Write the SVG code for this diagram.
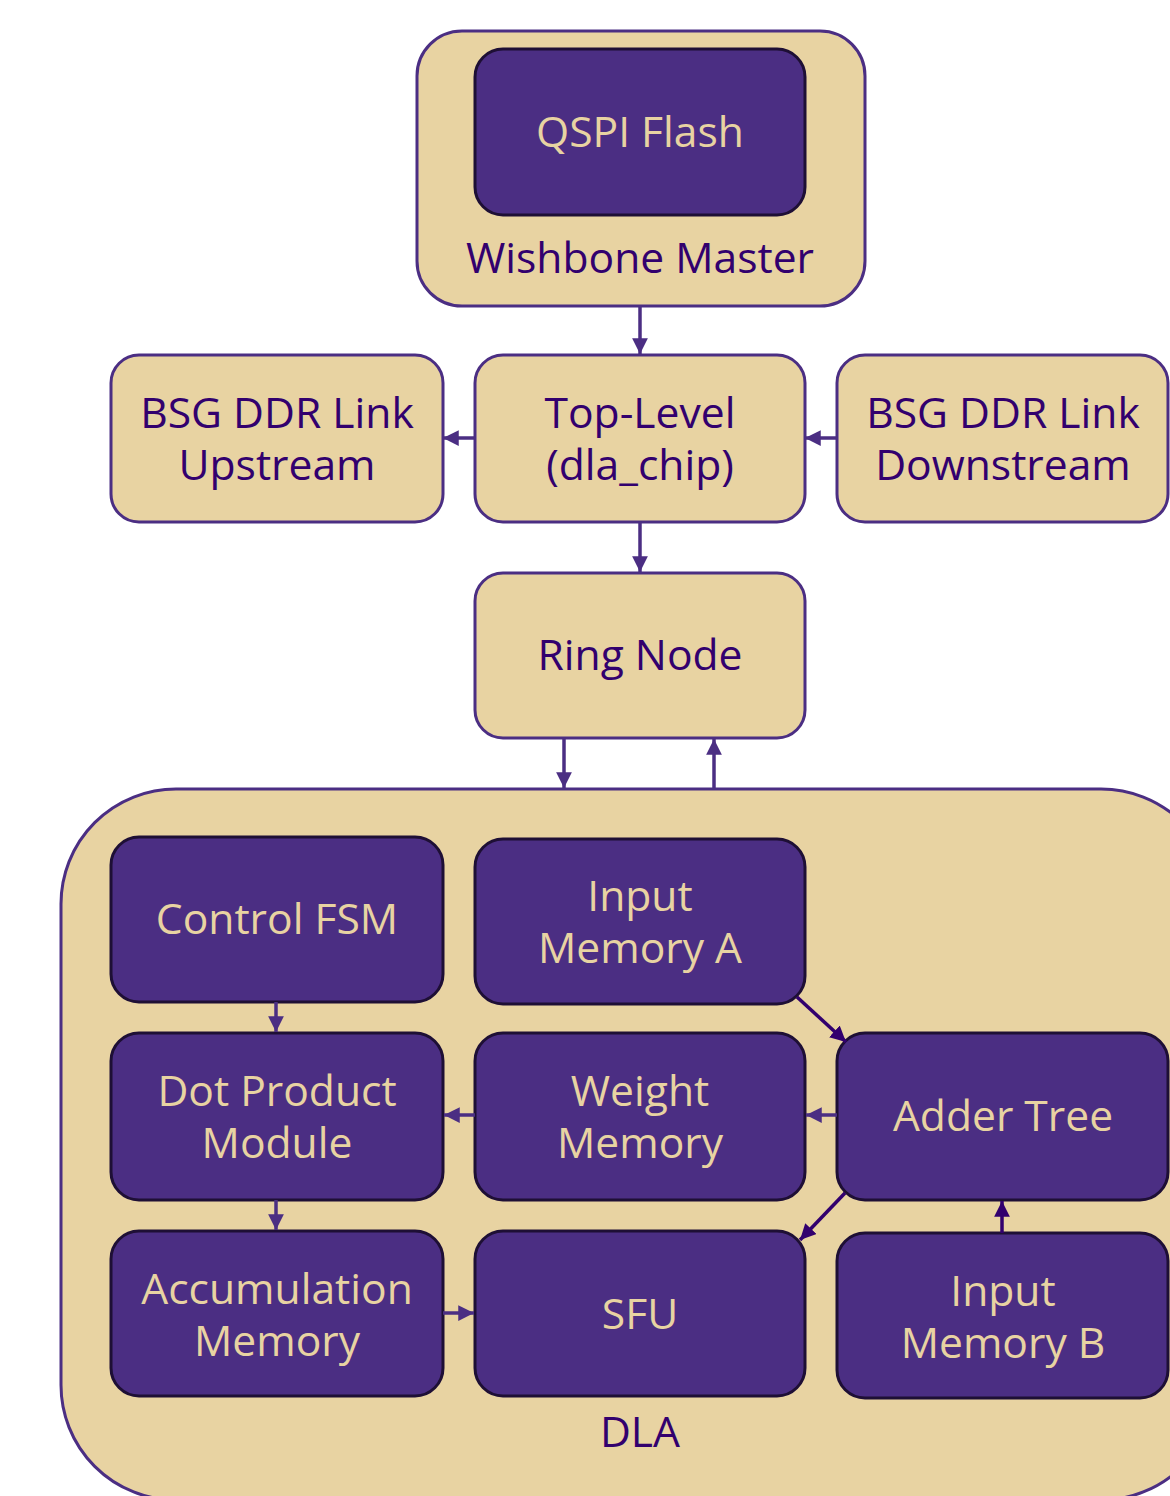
<svg xmlns="http://www.w3.org/2000/svg" width="1170" height="1496" viewBox="0 0 1170 1496">
  <style>
    .tan { fill: #E8D3A2; stroke: #4B2E83; stroke-width: 3; }
    .dark { fill: #4B2E83; stroke: #1E0F35; stroke-width: 3; }
    text { font-family: "Open Sans", "Noto Sans", "DejaVu Sans", sans-serif; font-size: 42.6px; text-anchor: middle; dominant-baseline: central; }
    .lt { fill: #32006E; }
    .dt { fill: #E8D3A2; }
    .wire { stroke: #4B2E83; stroke-width: 3.5; fill: none; marker-end: url(#head); }
    .wire2 { stroke: #32006E; stroke-width: 3.5; fill: none; marker-end: url(#head2); }
  </style>
  <defs>
    <marker id="head" viewBox="0 0 10 10" refX="10" refY="5" markerWidth="4.5" markerHeight="4.5" orient="auto" markerUnits="strokeWidth">
      <path d="M0,0 L10,5 L0,10 Z" fill="#4B2E83"/>
    </marker>
    <marker id="head2" viewBox="0 0 10 10" refX="10" refY="5" markerWidth="4.5" markerHeight="4.5" orient="auto" markerUnits="strokeWidth">
      <path d="M0,0 L10,5 L0,10 Z" fill="#32006E"/>
    </marker>
  </defs>
  <rect width="1170" height="1496" fill="#FFFFFF"/>

  <!-- Wishbone master containing the flash -->
  <g id="wishbone">
    <rect class="tan" x="417" y="31" width="448" height="275" rx="45"/>
    <text class="lt" x="640" y="256">Wishbone Master</text>
  </g>
  <g id="qspi">
    <rect class="dark" x="475" y="49" width="330" height="166" rx="28"/>
    <text class="dt" x="640" y="130">QSPI Flash</text>
  </g>

  <g id="toplevel">
    <rect class="tan" x="475" y="355" width="330" height="167" rx="28"/>
    <text class="lt" x="640" y="411">Top-Level</text>
    <text class="lt" x="640" y="463">(dla_chip)</text>
  </g>
  <g id="upstream">
    <rect class="tan" x="111" y="355" width="332" height="167" rx="28"/>
    <text class="lt" x="277" y="411">BSG DDR Link</text>
    <text class="lt" x="277" y="463">Upstream</text>
  </g>
  <g id="downstream">
    <rect class="tan" x="837" y="355" width="331" height="167" rx="28"/>
    <text class="lt" x="1003" y="411">BSG DDR Link</text>
    <text class="lt" x="1003" y="463">Downstream</text>
  </g>
  <g id="ringnode">
    <rect class="tan" x="475" y="573" width="330" height="165" rx="28"/>
    <text class="lt" x="640" y="653">Ring Node</text>
  </g>

  <!-- DLA block, runs slightly past the right and bottom edges -->
  <g id="dla">
    <rect class="tan" x="61" y="789" width="1155" height="711" rx="115"/>
    <text class="lt" x="640" y="1430">DLA</text>
  </g>
  <g id="controlfsm">
    <rect class="dark" x="111" y="837" width="332" height="165" rx="28"/>
    <text class="dt" x="277" y="917">Control FSM</text>
  </g>
  <g id="inputmema">
    <rect class="dark" x="475" y="839" width="330" height="165" rx="28"/>
    <text class="dt" x="640" y="894">Input</text>
    <text class="dt" x="640" y="946">Memory A</text>
  </g>
  <g id="dotproduct">
    <rect class="dark" x="111" y="1033" width="332" height="167" rx="28"/>
    <text class="dt" x="277" y="1089">Dot Product</text>
    <text class="dt" x="277" y="1141">Module</text>
  </g>
  <g id="weightmem">
    <rect class="dark" x="475" y="1033" width="330" height="167" rx="28"/>
    <text class="dt" x="640" y="1089">Weight</text>
    <text class="dt" x="640" y="1141">Memory</text>
  </g>
  <g id="addertree">
    <rect class="dark" x="837" y="1033" width="331" height="167" rx="28"/>
    <text class="dt" x="1003" y="1114">Adder Tree</text>
  </g>
  <g id="accmem">
    <rect class="dark" x="111" y="1231" width="332" height="165" rx="28"/>
    <text class="dt" x="277" y="1287">Accumulation</text>
    <text class="dt" x="277" y="1339">Memory</text>
  </g>
  <g id="sfu">
    <rect class="dark" x="475" y="1231" width="330" height="165" rx="28"/>
    <text class="dt" x="640" y="1312">SFU</text>
  </g>
  <g id="inputmemb">
    <rect class="dark" x="837" y="1233" width="331" height="165" rx="28"/>
    <text class="dt" x="1003" y="1289">Input</text>
    <text class="dt" x="1003" y="1341">Memory B</text>
  </g>

  <g id="connectors">
    <line class="wire" x1="640" y1="306" x2="640" y2="354"/>
    <line class="wire" x1="475" y1="438" x2="443" y2="438"/>
    <line class="wire" x1="837" y1="438" x2="805" y2="438"/>
    <line class="wire" x1="640" y1="522" x2="640" y2="572"/>
    <line class="wire" x1="564" y1="738" x2="564" y2="788"/>
    <line class="wire" x1="714" y1="789" x2="714" y2="739"/>

    <line class="wire" x1="276" y1="1002" x2="276" y2="1032"/>
    <line class="wire" x1="276" y1="1200" x2="276" y2="1230"/>
    <line class="wire" x1="475" y1="1115" x2="444" y2="1115"/>
    <line class="wire" x1="837" y1="1115" x2="806" y2="1115"/>
    <line class="wire" x1="443" y1="1313" x2="474" y2="1313"/>
    <line class="wire2" x1="797" y1="997" x2="846" y2="1042"/>
    <line class="wire2" x1="845" y1="1193" x2="800" y2="1240"/>
    <line class="wire2" x1="1002" y1="1233" x2="1002" y2="1201"/>
  </g>
</svg>
